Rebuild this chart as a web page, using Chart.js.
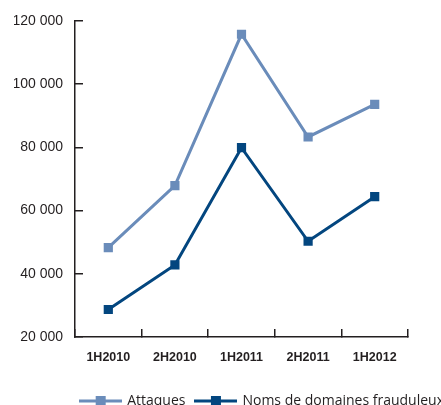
<!DOCTYPE html>
<html>
<head>
<meta charset="utf-8">
<script src="https://cdn.jsdelivr.net/npm/chart.js@4.4.1/dist/chart.umd.min.js"></script>
<style>
  html, body { margin: 0; padding: 0; background: #fff; }
  #wrap { width: 441px; height: 405px; overflow: hidden; }
</style>
</head>
<body>
<div id="wrap"><canvas id="chart" width="454" height="418"></canvas></div>
<script>
const periods = ["1H2010", "2H2010", "1H2011", "2H2011", "1H2012"];
const attaques = [48300, 67900, 115800, 83300, 93600];
const domaines = [28700, 42800, 79900, 50300, 64400];
const yTicks = [20000, 40000, 60000, 80000, 100000, 120000];

const axisColor = "#231f20";

// legend marker: a line with a square in the middle
function legendMarker(color) {
  const c = document.createElement("canvas");
  c.width = 43;
  c.height = 12;
  const g = c.getContext("2d");
  g.strokeStyle = color;
  g.lineWidth = 3;
  g.beginPath();
  g.moveTo(0, 6);
  g.lineTo(43, 6);
  g.stroke();
  g.fillStyle = color;
  g.fillRect(17, 1, 10, 10);
  return c;
}

const fmt = (v) => String(v).replace(/\B(?=(\d{3})+(?!\d))/g, " ");

new Chart(document.getElementById("chart"), {
  type: "line",
  data: {
    labels: periods,
    datasets: [
      {
        label: "Attaques",
        data: attaques,
        borderColor: "#6a8cba",
        backgroundColor: "#6a8cba",
        borderWidth: 3,
        pointStyle: "rect",
        pointRadius: 6.5,
        pointBorderWidth: 0,
        tension: 0,
      },
      {
        label: "Noms de domaines frauduleux",
        data: domaines,
        borderColor: "#03467f",
        backgroundColor: "#03467f",
        borderWidth: 3,
        pointStyle: "rect",
        pointRadius: 6.5,
        pointBorderWidth: 0,
        tension: 0,
      },
    ],
  },
  options: {
    responsive: false,
    animation: false,
    layout: { padding: { left: 14, right: 0, top: 21, bottom: 0 } },
    plugins: {
      tooltip: { enabled: false },
      legend: {
        position: "bottom",
        align: "end",
        labels: {
          usePointStyle: true,
          pointStyleWidth: 40,
          color: axisColor,
          padding: 10,
          font: { family: "'Open Sans', sans-serif", size: 14 },
          generateLabels: (chart) =>
            chart.data.datasets.map((ds, i) => ({
              text: ds.label,
              pointStyle: legendMarker(ds.borderColor),
              fillStyle: ds.borderColor,
              strokeStyle: ds.borderColor,
              lineWidth: 0,
              fontColor: axisColor,
              datasetIndex: i,
            })),
        },
      },
    },
    scales: {
      x: {
        offset: true,
        afterFit: (s) => { s.height -= 2; },
        grid: {
          offset: true,
          drawOnChartArea: false,
          color: axisColor,
          lineWidth: 1.5,
          tickLength: -8,
        },
        border: { color: axisColor, width: 1.5 },
        ticks: {
          color: axisColor,
          padding: 21,
          maxRotation: 0,
          font: { family: "'Liberation Sans', Arial, sans-serif", size: 12.5, weight: "bold" },
        },
      },
      y: {
        min: 20000,
        max: 120000,
        afterBuildTicks: (s) => { s.ticks = yTicks.map((v) => ({ value: v })); },
        afterFit: (s) => { s.width = 61; s.paddingTop = 0; s.paddingBottom = 0; },
        grid: {
          drawOnChartArea: false,
          color: axisColor,
          lineWidth: 1.5,
          tickLength: -8,
        },
        border: { color: axisColor, width: 1.5 },
        ticks: {
          color: axisColor,
          padding: 20,
          callback: (v) => fmt(v),
          font: { family: "'Liberation Sans', Arial, sans-serif", size: 14 },
        },
      },
      // empty right-hand spacer so the plot ends where the reference does
      spacer: {
        type: "linear",
        position: "right",
        afterFit: (s) => { s.width = 46; },
        grid: { display: false },
        border: { display: false },
        ticks: { display: false },
      },
    },
  },
});
</script>
</body>
</html>
